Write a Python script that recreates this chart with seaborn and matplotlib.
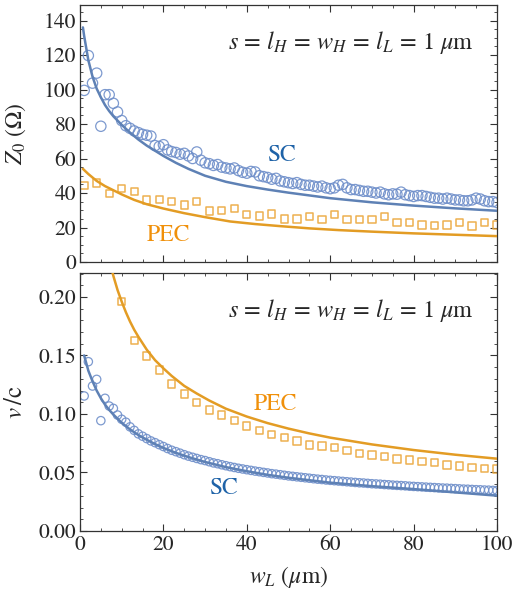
import numpy as np
import pandas as pd
import matplotlib
matplotlib.use("Agg")
import matplotlib.pyplot as plt
from matplotlib.ticker import MultipleLocator, FormatStrFormatter
import seaborn as sns

# ---------------- data ----------------
# Top panel: Z0 (Ohm)
z_sc_line_x = [0.7, 1, 2, 3, 4, 5, 6, 7, 8, 10, 12, 14, 16, 18, 20, 23, 26, 30, 35, 40, 45, 50, 60, 70, 80, 90, 100]
z_sc_line_y = [136, 131, 117, 107.5, 100.5, 95.5, 91, 87.5, 84.5, 79.5, 75, 71, 67.5, 64.5, 61.5, 57.5, 54,
               50, 46.5, 44, 42, 40.2, 37, 34.6, 32.7, 31.1, 29.7]

z_pec_line_x = [0.7, 2, 4, 6, 8, 10, 13, 16, 20, 25, 30, 36, 42, 48, 55, 62, 70, 80, 90, 100]
z_pec_line_y = [54, 51, 47, 44, 41.6, 39.2, 36, 33.5, 31, 28.3, 26, 23.5, 22, 20.8, 19.5, 18.5, 17.6, 16.6, 15.8, 15]

z_sc_pts_x = list(range(1, 101))
z_sc_pts_y = [99.5, 119.7, 103.7, 109.5, 78.7, 97, 97, 92, 87, 82,
              79, 77.5, 76, 75, 74, 73.5, 73, 67.5, 67, 68,
              65, 64, 63.5, 62.5, 63, 61.5, 60, 63.8, 59, 57.5,
              57, 56, 56.5, 55, 54.5, 54, 54.5, 53, 52, 51.5,
              52.5, 52.2, 50, 49.5, 49, 48, 48.5, 47, 46.5, 46,
              45.5, 46, 45, 44.5, 44.5, 44, 43.5, 44, 43, 42.5,
              43, 44.5, 45, 43, 42, 42, 41.5, 41, 41, 40.5,
              40, 40.5, 39.5, 39, 39.5, 39.3, 40.5, 39, 38.5, 38,
              38.5, 38.5, 38, 37.5, 37, 37, 36.5, 37, 36.5, 36,
              36, 35.5, 35.5, 36, 37, 36.5, 35.5, 35, 35, 34.5]

z_pec_pts_x = list(range(1, 101, 3))
z_pec_pts_y = [44.5, 45.9, 39.7, 42.6, 40.7, 35.9, 36.4, 34.9, 33, 34.9,
               29.5, 29.7, 31, 27.6, 26.6, 27.8, 24.9, 24.9, 26.2, 24.7,
               27.6, 24.7, 24.7, 24.7, 26.2, 23, 23, 21.4, 21.2, 21.4,
               23, 20.8, 23, 21.4]

# Bottom panel: v/c
v_sc_line_x = [1, 2, 3, 4, 5, 6, 7, 8, 10, 12, 14, 16, 18, 20, 23, 26, 30, 35, 40, 45, 50, 60, 70, 80, 90, 100]
v_sc_line_y = [0.150, 0.137, 0.128, 0.120, 0.1135, 0.108, 0.1035, 0.0995, 0.0925, 0.0868, 0.082, 0.078,
               0.0743, 0.0710, 0.0668, 0.0632, 0.0590, 0.0546, 0.0511, 0.0480, 0.0455, 0.0413, 0.0383,
               0.0358, 0.0330, 0.0302]

v_pec_line_x = [7, 8, 9, 10, 11, 12, 13, 14, 16, 18, 20, 22, 25, 28, 31, 35, 40, 45, 50, 55, 60, 70, 80, 90, 100]
v_pec_line_y = [0.232, 0.218, 0.206, 0.196, 0.187, 0.179, 0.172, 0.166, 0.155, 0.146, 0.139, 0.1325, 0.124,
                0.1175, 0.1115, 0.1045, 0.0978, 0.0922, 0.0875, 0.0834, 0.0798, 0.0740, 0.0692, 0.0652, 0.0618]

v_sc_pts_x = list(range(1, 101))
v_sc_pts_y = [0.1154, 0.1447, 0.1239, 0.1296, 0.0943, 0.1134, 0.1068, 0.1048, 0.0991, 0.0955,
              0.093, 0.089, 0.086, 0.083, 0.081, 0.079, 0.077, 0.0755, 0.0738, 0.0722,
              0.0705, 0.069, 0.0678, 0.0665, 0.0652, 0.064, 0.063, 0.062, 0.061, 0.0602,
              0.0592, 0.0582, 0.0575, 0.0566, 0.0558, 0.055, 0.0543, 0.0536, 0.053, 0.0524,
              0.0518, 0.0512, 0.0507, 0.0501, 0.0496, 0.049, 0.0486, 0.0481, 0.0476, 0.0471,
              0.0467, 0.0463, 0.0459, 0.0455, 0.0451, 0.0447, 0.0443, 0.044, 0.0436, 0.0433,
              0.043, 0.0427, 0.0424, 0.0421, 0.0418, 0.0415, 0.0412, 0.041, 0.0407, 0.0404,
              0.0402, 0.04, 0.0397, 0.0395, 0.0392, 0.039, 0.0388, 0.0386, 0.0383, 0.0381,
              0.0379, 0.0377, 0.0375, 0.0373, 0.0371, 0.0369, 0.0367, 0.0366, 0.0364, 0.0362,
              0.036, 0.0358, 0.0357, 0.0355, 0.0353, 0.0352, 0.035, 0.0349, 0.0347, 0.0346]

v_pec_pts_x = list(range(10, 101, 3))
v_pec_pts_y = [0.196, 0.1627, 0.1496, 0.1376, 0.1256, 0.117, 0.110, 0.1034, 0.0991, 0.0943,
               0.0897, 0.0857, 0.0826, 0.0801, 0.077, 0.0735, 0.0726, 0.0712, 0.0686, 0.0664,
               0.065, 0.0635, 0.0615, 0.0607, 0.0592, 0.0584, 0.0564, 0.0556, 0.0544, 0.0536,
               0.053]

x_ticks = [0, 20, 40, 60, 80, 100]
annotation = r"$s\,=\,l_H\,=\,w_H\,=\,l_L\,=\,1\ \mu\mathrm{m}$"

# ---------------- style ----------------
sns.set_style("ticks")
plt.rcParams["font.family"] = ["STIXGeneral", "DejaVu Serif"]
plt.rcParams["mathtext.fontset"] = "stix"

SC_COLOR = "#5e81b5"
SC_PT = "#6f8fca"
PEC_COLOR = "#e39c24"
PEC_PT = "#eba73c"
SC_TEXT = "#1f63a8"
PEC_TEXT = "#f0900a"

W, H = 514, 597
fig = plt.figure(figsize=(W / 100, H / 100), dpi=100)
left = 80 / W
width = (497 - 80) / W
ax1 = fig.add_axes([left, 1 - 262 / H, width, (262 - 5) / H])
ax2 = fig.add_axes([left, 1 - 531 / H, width, (531 - 273) / H])


def style_axis(ax):
    ax.tick_params(which="both", direction="in", top=True, right=True,
                   labelsize=15.5, color="#333333", pad=3)
    ax.tick_params(which="major", length=5, width=0.8)
    ax.tick_params(which="minor", length=2.5, width=0.6)
    for sp in ax.spines.values():
        sp.set_linewidth(0.9)
        sp.set_color("#333333")
        sp.set_visible(True)
    ax.set_xlim(0, 100)
    ax.xaxis.set_major_locator(MultipleLocator(20))
    ax.xaxis.set_minor_locator(MultipleLocator(5))


# ---------------- top panel ----------------
sns.scatterplot(x=z_sc_pts_x, y=z_sc_pts_y, ax=ax1, marker="o", s=55,
                facecolors="none", edgecolor=SC_PT, linewidth=0.9, alpha=0.9,
                zorder=2)
sns.scatterplot(x=z_pec_pts_x, y=z_pec_pts_y, ax=ax1, marker="s", s=28,
                facecolors="none", edgecolor=PEC_PT, linewidth=1.1, alpha=0.9,
                zorder=2)
sns.lineplot(x=z_sc_line_x, y=z_sc_line_y, ax=ax1, color=SC_COLOR, lw=1.8, zorder=3)
sns.lineplot(x=z_pec_line_x, y=z_pec_line_y, ax=ax1, color=PEC_COLOR, lw=1.8, zorder=3)
style_axis(ax1)
ax1.set_ylim(0, 149)
ax1.yaxis.set_major_locator(MultipleLocator(20))
ax1.yaxis.set_minor_locator(MultipleLocator(5))
ax1.set_xticks(x_ticks)
ax1.set_xticklabels([])
ax1.set_ylabel(r"$Z_0$ ($\Omega$)", fontsize=17)
ax1.yaxis.set_label_coords(-0.125, 0.5)
ax1.text(0.945, 0.855, annotation, transform=ax1.transAxes, ha="right",
         va="center", fontsize=17.5)
ax1.text(48.4, 62, "SC", color=SC_TEXT, fontsize=17, ha="center", va="center")
ax1.text(21.2, 15.6, "PEC", color=PEC_TEXT, fontsize=17, ha="center", va="center")

# ---------------- bottom panel ----------------
sns.scatterplot(x=v_sc_pts_x, y=v_sc_pts_y, ax=ax2, marker="o", s=36,
                facecolors="none", edgecolor=SC_PT, linewidth=0.9, alpha=0.9,
                zorder=2)
sns.scatterplot(x=v_pec_pts_x, y=v_pec_pts_y, ax=ax2, marker="s", s=28,
                facecolors="none", edgecolor=PEC_PT, linewidth=1.1, alpha=0.9,
                zorder=2)
sns.lineplot(x=v_sc_line_x, y=v_sc_line_y, ax=ax2, color=SC_COLOR, lw=1.8, zorder=3)
sns.lineplot(x=v_pec_line_x, y=v_pec_line_y, ax=ax2, color=PEC_COLOR, lw=1.8, zorder=3)
style_axis(ax2)
ax2.set_ylim(0, 0.2205)
ax2.yaxis.set_major_locator(MultipleLocator(0.05))
ax2.yaxis.set_minor_locator(MultipleLocator(0.01))
ax2.yaxis.set_major_formatter(FormatStrFormatter("%.2f"))
ax2.set_xticks(x_ticks)
ax2.set_xticklabels([str(t) for t in x_ticks])
ax2.set_ylabel(r"$v\,$/c", fontsize=18)
ax2.yaxis.set_label_coords(-0.125, 0.5)
ax2.set_xlabel(r"$w_L$ ($\mu$m)", fontsize=17, va="center")
ax2.xaxis.set_label_coords(0.5, -0.18)
ax2.text(0.945, 0.855, annotation, transform=ax2.transAxes, ha="right",
         va="center", fontsize=17.5)
ax2.text(46.8, 0.108, "PEC", color=PEC_TEXT, fontsize=17, ha="center", va="center")
ax2.text(34.4, 0.0363, "SC", color=SC_TEXT, fontsize=17, ha="center", va="center")

fig.savefig("out.png", dpi=100)
